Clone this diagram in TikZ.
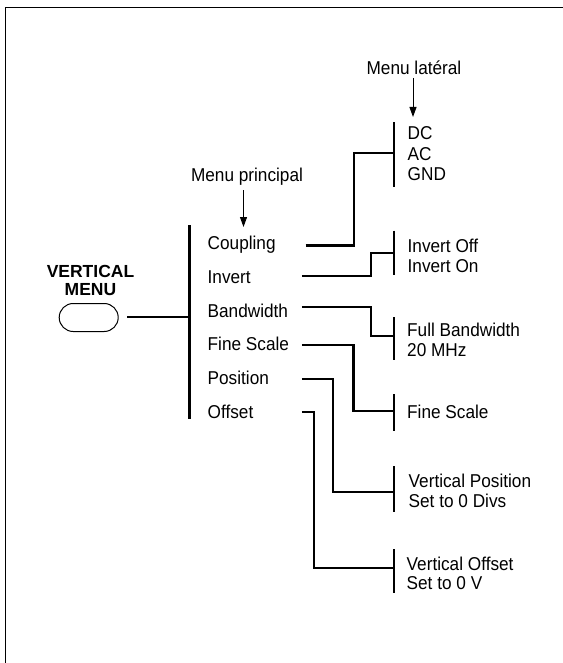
\documentclass[tikz,border=0pt]{standalone}
\usepackage{fontspec}
\setmainfont{Liberation Sans}
\newfontfamily\nf[FakeStretch=0.925]{Liberation Sans}
\usetikzlibrary{arrows.meta}
\begin{document}
\begin{tikzpicture}[x=1pt,y=-1pt,
  lbl/.style={font=\nf\fontsize{18.6}{20}\selectfont, inner sep=0pt, anchor=base west},
  captxt/.style={font=\nf\fontsize{18.6}{20}\selectfont, inner sep=0pt, anchor=base},
  conn/.style={line width=2.1pt},
  barline/.style={line width=2.3pt},
  ptr/.style={line width=1pt,-{Triangle[length=10pt,width=7pt]}},
  framestyle/.style={line width=1.6pt}]
\useasboundingbox (0,0) rectangle (562,663);
% frame
\coordinate (fbl) at (5.4,670);
\coordinate (ftl) at (5.4,7.5);
\coordinate (ftr) at (570,7.5);
\draw[framestyle] (fbl) -- (ftl) -- (ftr);

% captions
\node[captxt] (ml) at (414,75) {Menu latéral};
\node[captxt] (mp) at (247,182) {Menu principal};
\coordinate (mlA) at (413,78);  \coordinate (mlB) at (413,117);
\coordinate (mpA) at (243.5,190); \coordinate (mpB) at (243.5,227);
\draw[ptr] (mlA) -- (mlB);
\draw[ptr] (mpA) -- (mpB);

% button
\node[font=\bfseries\fontsize{17.5}{18}\selectfont, inner sep=0pt, anchor=base] (vt) at (90.5,277) {VERTICAL};
\node[font=\bfseries\fontsize{17.5}{18}\selectfont, inner sep=0pt, anchor=base] (vm) at (90.5,295) {MENU};
\node[draw, line width=1pt, rounded corners=14pt, minimum width=59pt, minimum height=28pt, inner sep=0pt] (btn) at (88.7,317.5) {};
\coordinate (bs) at (127,317.3);
\coordinate (mj) at (189.5,317.3);
\draw[conn] (bs) -- (mj);

% main bar
\coordinate (mt) at (189.5,225);
\coordinate (mb) at (189.5,418.5);
\draw[barline] (mt) -- (mb);

% main items
\node[lbl] (i1) at (207.5,249.5) {Coupling};
\node[lbl] (i2) at (207.5,283.3) {Invert};
\node[lbl] (i3) at (207.5,317) {Bandwidth};
\node[lbl] (i4) at (207.5,350.5) {Fine Scale};
\node[lbl] (i5) at (207.5,384.5) {Position};
\node[lbl] (i6) at (207.5,418) {Offset};

% side bars
\coordinate (s1t) at (394,122.3); \coordinate (s1b) at (394,186.7);
\coordinate (s2t) at (394,230.7); \coordinate (s2b) at (394,275);
\coordinate (s3t) at (394,317.3); \coordinate (s3b) at (394,360);
\coordinate (s4t) at (394,394);   \coordinate (s4b) at (394,431);
\coordinate (s5t) at (394,466);   \coordinate (s5b) at (394,511.5);
\coordinate (s6t) at (394,549.3); \coordinate (s6b) at (394,592.7);
\foreach \k in {1,...,6} {\draw[barline] (s\k t) -- (s\k b);}

% side texts
\node[lbl] (t1a) at (407.5,140) {DC};
\node[lbl] (t1b) at (407.5,160.5) {AC};
\node[lbl] (t1c) at (407.5,180.5) {GND};
\node[lbl] (t2a) at (407.5,252.7) {Invert Off};
\node[lbl] (t2b) at (407.5,272.5) {Invert On};
\node[lbl] (t3a) at (407,336.7) {Full Bandwidth};
\node[lbl] (t3b) at (407,356.7) {20 MHz};
\node[lbl] (t4a) at (407,418.3) {Fine Scale};
\node[lbl] (t5a) at (408.5,487.3) {Vertical Position};
\node[lbl] (t5b) at (408.5,507.5) {Set to 0 Divs};
\node[lbl] (t6a) at (406.5,570) {Vertical Offset};
\node[lbl] (t6b) at (406.5,589.5) {Set to 0 V};

% connectors
\coordinate (c1s) at (305.5,245.5); \coordinate (c1e) at (394,153);
\coordinate (c2s) at (301.8,276);   \coordinate (c2e) at (394,252.7);
\coordinate (c3s) at (301.8,307.3); \coordinate (c3e) at (394,336);
\coordinate (c4s) at (301.8,345);   \coordinate (c4e) at (394,410.7);
\coordinate (c5s) at (301.8,379.3); \coordinate (c5e) at (394,492.3);
\coordinate (c6s) at (301.8,411.7); \coordinate (c6e) at (394,568.3);
\draw[conn] (c1s) -- (354,245.5) -- (354,153) -- (c1e);
\draw[conn] (c2s) -- (371,276) -- (371,252.7) -- (c2e);
\draw[conn] (c3s) -- (371,307.3) -- (371,336) -- (c3e);
\draw[conn] (c4s) -- (353.5,345) -- (353.5,410.7) -- (c4e);
\draw[conn] (c5s) -- (333.3,379.3) -- (333.3,492.3) -- (c5e);
\draw[conn] (c6s) -- (313.6,411.7) -- (313.6,568.3) -- (c6e);
\end{tikzpicture}
\end{document}
